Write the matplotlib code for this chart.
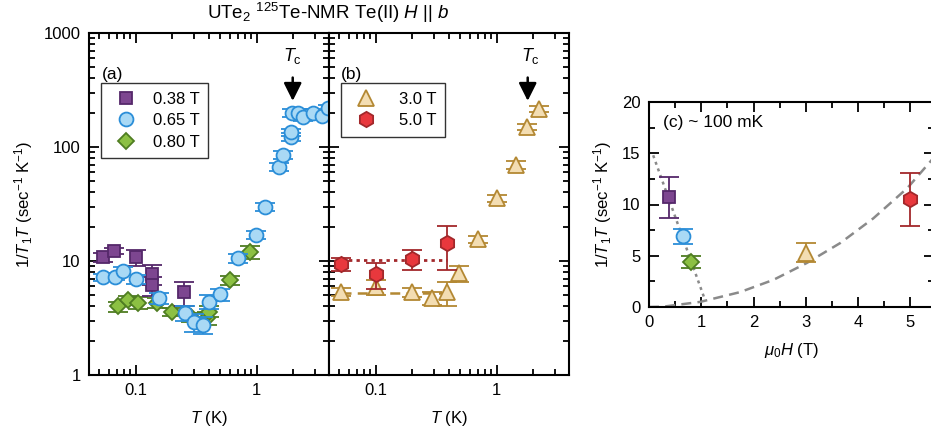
import numpy as np
import matplotlib
matplotlib.use("Agg")
import matplotlib.pyplot as plt
from matplotlib.ticker import LogLocator, FixedLocator, MultipleLocator, NullFormatter
from matplotlib.lines import Line2D

plt.rcParams['font.family'] = ['Liberation Sans', 'DejaVu Sans']
plt.rcParams['mathtext.fontset'] = 'custom'
plt.rcParams['mathtext.rm'] = 'Liberation Sans'
plt.rcParams['mathtext.it'] = 'Liberation Sans:italic'
plt.rcParams['font.size'] = 12

# (a) low fields: T (K), 1/T1T (sec^-1 K^-1), error
T38 = [0.054, 0.066, 0.100, 0.135, 0.135, 0.25]
R38 = [10.8, 12.3, 10.8, 7.7, 6.1, 5.3]
E38 = [1.0, 0.8, 1.8, 1.6, 1.2, 1.3]

T65 = [0.054, 0.067, 0.078, 0.10, 0.155, 0.254, 0.30, 0.36, 0.40, 0.50, 0.70,
       0.98, 1.16, 1.52, 1.64, 1.91, 1.91, 1.95, 2.18, 2.4, 2.9, 3.45, 3.86]
R65 = [7.2, 7.3, 8.2, 6.9, 4.7, 3.5, 2.9, 2.75, 4.4, 5.1, 10.6,
       17, 30, 67, 85, 122, 135, 199, 199, 183, 199, 188, 218]
E65 = [0.5, 0.5, 0.6, 0.6, 0.5, 0.5, 0.5, 0.45, 0.6, 0.6, 0.9,
       1.4, 2.5, 6, 7, 10, 10, 15, 15, 14, 15, 14, 16]

T80 = [0.071, 0.086, 0.104, 0.15, 0.20, 0.285, 0.39, 0.40, 0.60, 0.88]
R80 = [4.0, 4.55, 4.3, 4.3, 3.6, 3.2, 3.15, 3.6, 6.8, 12]
E80 = [0.4, 0.4, 0.5, 0.4, 0.3, 0.3, 0.4, 0.4, 0.6, 1.5]

# (b) high fields
T30 = [0.052, 0.10, 0.198, 0.29, 0.39, 0.49, 0.70, 1.0, 1.44, 1.76, 2.22]
R30 = [5.35, 5.9, 5.35, 4.75, 5.3, 7.8, 15.5, 35.5, 70, 150, 215]
E30 = [0.4, 0.9, 0.5, 0.6, 1.3, 1.3, 1.2, 2.5, 6, 10, 14]

T50 = [0.052, 0.10, 0.20, 0.39]
R50 = [9.4, 7.7, 10.4, 14.4]
E50 = [1.2, 2.0, 2.0, 6.0]

lvl50 = 10.3
lvl30 = 5.25

# (c) field dependence at ~100 mK
Hc = [0.38, 0.65, 0.80, 3.0, 5.0]
Rc = [10.7, 6.9, 4.4, 5.3, 10.5]
Ec = [2.0, 0.75, 0.55, 0.95, 2.55]

# guide lines in (c)
guide_dot_H = [0.08, 1.07]
guide_dot_R = [14.8, 0.7]
guide_dash_H = [0.0, 0.27, 0.98, 1.74, 2.38, 3.02, 3.66, 4.29, 4.94, 5.45]
guide_dash_R = [0.0, 0.03, 0.5, 1.45, 2.65, 4.3, 6.25, 8.65, 11.6, 14.6]

Tc_a = 1.98
Tc_b = 1.8

styles = {
    '0.38 T': dict(marker='s', mfc='#7d4690', mec='#55286a', ms=9),
    '0.65 T': dict(marker='o', mfc='#a9d9f5', mec='#2b8ed8', ms=10),
    '0.80 T': dict(marker='D', mfc='#8cc043', mec='#4f7d22', ms=8.5),
    '3.0 T': dict(marker='^', mfc='#f3ddb2', mec='#b38833', ms=11),
    '5.0 T': dict(marker='h', mfc='#e8383d', mec='#a2282b', ms=11),
}


def draw(ax, x, y, e, key, z=3):
    st = styles[key]
    ax.errorbar(x, y, yerr=e, ls='none', marker=st['marker'], ms=st['ms'],
                mfc=st['mfc'], mec=st['mec'], mew=1.3, ecolor=st['mec'],
                elinewidth=1.3, capsize=7.5, capthick=1.3, zorder=z)


def handle(key):
    st = styles[key]
    return Line2D([], [], ls='none', marker=st['marker'], ms=st['ms'],
                  mfc=st['mfc'], mec=st['mec'], mew=1.3)


def logaxis(ax):
    ax.set_xscale('log')
    ax.set_yscale('log')
    ax.set_xlim(0.041, 3.95)
    ax.set_ylim(1, 1000)
    ax.set_xticks([0.1, 1])
    ax.set_xticklabels(['0.1', '1'])
    ax.xaxis.set_minor_locator(LogLocator(base=10, subs=np.arange(2, 10)))
    ax.xaxis.set_minor_formatter(NullFormatter())
    ax.yaxis.set_minor_locator(LogLocator(base=10, subs=np.arange(2, 10)))
    ax.yaxis.set_minor_formatter(NullFormatter())
    ax.tick_params(which='both', direction='in', top=True, right=True, width=1.3)
    ax.tick_params(which='major', length=7, pad=6)
    ax.tick_params(which='minor', length=4)
    for s in ax.spines.values():
        s.set_linewidth(1.5)


fig = plt.figure(figsize=(9.31, 4.41), dpi=100)
W, H = 931.0, 441.0

axa = fig.add_axes([89 / W, 1 - 375 / H, 240 / W, 342 / H])
axb = fig.add_axes([329 / W, 1 - 375 / H, 240 / W, 342 / H])
axc = fig.add_axes([649 / W, 1 - 307 / H, 285 / W, 205 / H])

leg_kw = dict(loc='upper left', bbox_to_anchor=(0.05, 0.853), borderaxespad=0,
              frameon=True, fancybox=False, edgecolor='black',
              labelspacing=0.4, borderpad=0.5, fontsize=12, handlelength=2.0)

# panel (a)
logaxis(axa)
axa.set_yticks([1, 10, 100, 1000])
axa.set_yticklabels(['1', '10', '100', '1000'])
draw(axa, T80, R80, E80, '0.80 T', 3)
draw(axa, T38, R38, E38, '0.38 T', 4)
draw(axa, T65, R65, E65, '0.65 T', 5)
axa.set_xlabel('$T$ (K)', labelpad=8)
axa.set_ylabel('1/$T_1T$ (sec$^{-1}$ K$^{-1}$)', labelpad=6)
axa.text(0.055, 0.865, '(a)', transform=axa.transAxes, fontsize=12.5)
axa.annotate('', xy=(Tc_a, 240), xytext=(Tc_a, 430),
             arrowprops=dict(arrowstyle='-|>,head_length=0.9,head_width=0.45',
                             color='black', lw=1.8))
axa.text(Tc_a, 510, '$T_\\mathrm{c}$', ha='center', va='bottom', fontsize=13)
leg = axa.legend([handle(k) for k in ['0.38 T', '0.65 T', '0.80 T']],
                 ['0.38 T', '0.65 T', '0.80 T'], handletextpad=0.6, **leg_kw)
leg.get_frame().set_linewidth(1.0)

# panel (b)
logaxis(axb)
axb.set_yticks([1, 10, 100, 1000])
axb.set_yticklabels([])
axb.plot([T50[0], T50[-1]], [lvl50, lvl50], ls=(0, (1.2, 1.5)), color='#a2282b', lw=2, zorder=2)
axb.plot([T30[0], 0.36], [lvl30, lvl30], ls=(0, (4, 2.5)), color='#b38833', lw=1.8, zorder=2)
draw(axb, T30, R30, E30, '3.0 T', 3)
draw(axb, T50, R50, E50, '5.0 T', 4)
axb.set_xlabel('$T$ (K)', labelpad=8)
axb.text(0.05, 0.865, '(b)', transform=axb.transAxes, fontsize=12.5)
axb.annotate('', xy=(Tc_b, 240), xytext=(Tc_b, 430),
             arrowprops=dict(arrowstyle='-|>,head_length=0.9,head_width=0.45',
                             color='black', lw=1.8))
axb.text(Tc_b * 1.06, 510, '$T_\\mathrm{c}$', ha='center', va='bottom', fontsize=13)
leg = axb.legend([handle(k) for k in ['3.0 T', '5.0 T']], ['3.0 T', '5.0 T'],
                 handletextpad=1.0, **leg_kw)
leg.get_frame().set_linewidth(1.0)

fig.text(328 / W, 1 - 13 / H, 'UTe$_2$ $^{125}$Te-NMR Te(II) $H$ || $b$',
         ha='center', va='center', fontsize=13.5)

# panel (c)
axc.set_xlim(0, 5.45)
axc.set_ylim(0, 20)
axc.plot(guide_dot_H, guide_dot_R, ls=(0, (1.2, 1.6)), color='#8a8a8a', lw=1.8, zorder=2)
axc.plot(guide_dash_H, guide_dash_R, ls=(0, (4, 2.5)), color='#8a8a8a', lw=1.8, zorder=2)
keys = ['0.38 T', '0.65 T', '0.80 T', '3.0 T', '5.0 T']
for h, r, e, k in zip(Hc, Rc, Ec, keys):
    draw(axc, [h], [r], [e], k, 3)
axc.xaxis.set_major_locator(MultipleLocator(1))
axc.xaxis.set_minor_locator(MultipleLocator(0.5))
axc.yaxis.set_major_locator(MultipleLocator(5))
axc.yaxis.set_minor_locator(MultipleLocator(2.5))
axc.tick_params(which='both', direction='in', top=True, right=True, width=1.3)
axc.tick_params(which='major', length=7, pad=6)
axc.tick_params(which='minor', length=4)
for s in axc.spines.values():
    s.set_linewidth(1.5)
axc.set_xlabel('$\\mu_0H$ (T)', labelpad=8)
axc.set_ylabel('1/$T_1T$ (sec$^{-1}$ K$^{-1}$)', labelpad=6)
axc.text(0.05, 0.88, '(c) ~ 100 mK', transform=axc.transAxes, fontsize=12.5)

fig.savefig('out.png', dpi=100)
